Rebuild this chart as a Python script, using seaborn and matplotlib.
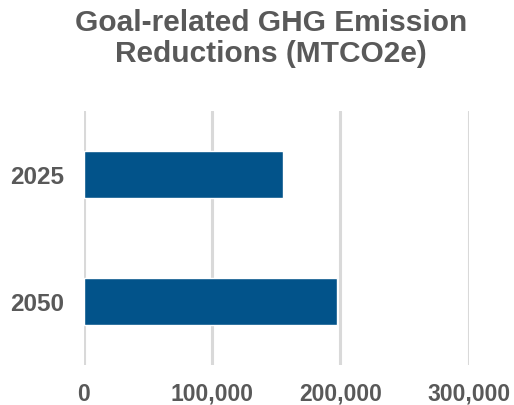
import matplotlib
matplotlib.use('Agg')
import matplotlib.pyplot as plt
import seaborn as sns
import pandas as pd
from matplotlib.ticker import FuncFormatter

# data
years = ['2025', '2050']
reductions = [155200, 197400]
x_ticks = [0, 100000, 200000, 300000]

df = pd.DataFrame({'year': years, 'reduction': reductions})

sns.set_style('white')
plt.rcParams['font.family'] = ['Liberation Sans', 'DejaVu Sans']

text_color = '#595959'
bar_color = '#02538A'

fig = plt.figure(figsize=(5.14, 4.06), dpi=100)
ax = fig.add_axes([0.163, 0.0985, 0.749, 0.626])

sns.barplot(data=df, x='reduction', y='year', orient='h', color=bar_color,
            width=0.376, saturation=1, ax=ax, zorder=3)

ax.set_xlim(0, 300000)
ax.set_ylim(1.5, -0.5)
ax.set_xticks(x_ticks)
ax.xaxis.set_major_formatter(FuncFormatter(lambda v, p: f'{int(v):,}'))
ax.grid(axis='x', color='#D9D9D9', linewidth=2.2, zorder=0)
ax.grid(axis='y', visible=False)
for s in ax.spines.values():
    s.set_visible(False)

ax.set_xlabel('')
ax.set_ylabel('')
ax.tick_params(axis='both', length=0, labelcolor=text_color)
ax.tick_params(axis='x', pad=12, labelsize=16.5)
ax.tick_params(axis='y', pad=14.5, labelsize=17.5)
for lab in ax.get_xticklabels() + ax.get_yticklabels():
    lab.set_fontweight('bold')

fig.text(0.527, 0.979, 'Goal-related GHG Emission\nReductions (MTCO2e)', ha='center', va='top',
         fontsize=21.5, fontweight='bold', color=text_color, linespacing=1.15)

fig.savefig('out.png', dpi=100)
